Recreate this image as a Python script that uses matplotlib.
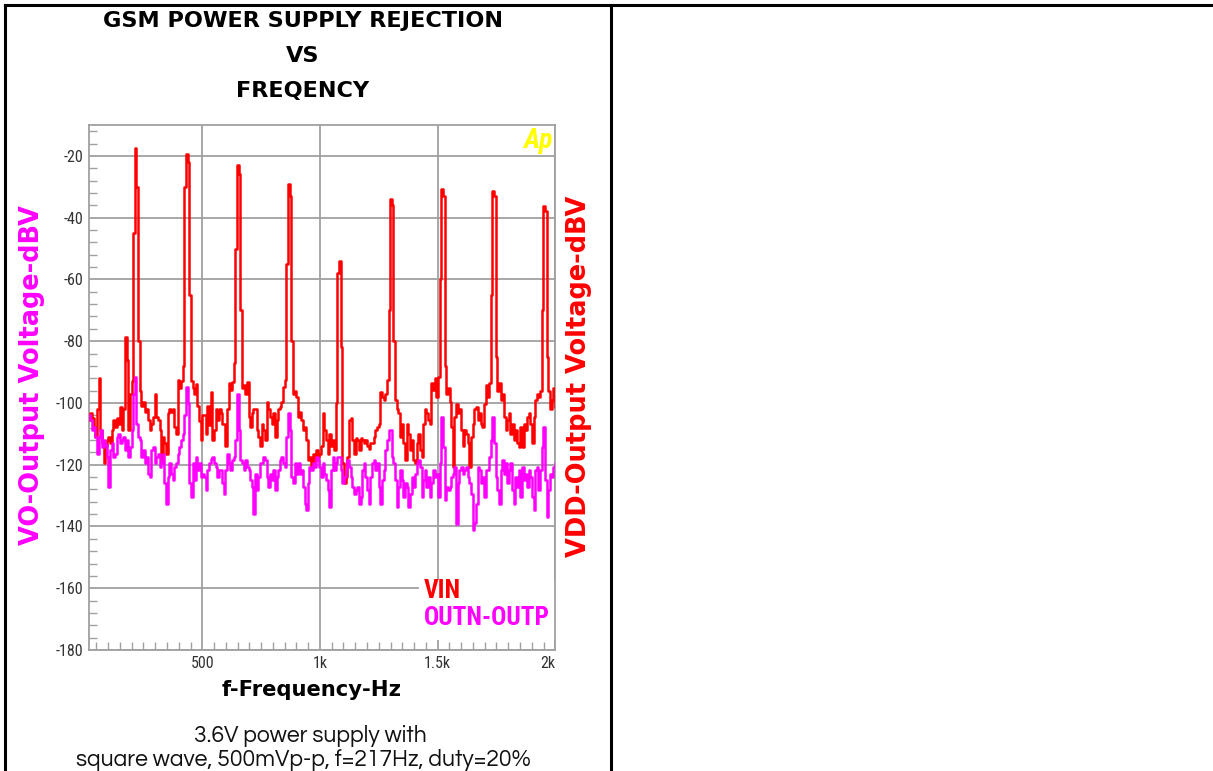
import numpy as np
import matplotlib
matplotlib.use("Agg")
import matplotlib.pyplot as plt
from matplotlib.lines import Line2D
from matplotlib.patches import Rectangle
from matplotlib.ticker import MultipleLocator, FixedLocator

# ---------------- data ----------------
freq_start = 21      # Hz, first FFT bin shown
freq_step = 7        # Hz, bin spacing (217 Hz = 31 bins)

vin_dbv = [
    -105.6, -103.4, -105.0, -107.8, -111.0, -102.0, -91.8, -108.8, -113.0, -119.6,
    -114.0, -112.0, -111.0, -113.0, -108.8, -105.6, -107.8, -105.0, -106.7, -101.3,
    -108.8, -102.0, -78.6, -86.0, -108.8, -97.0, -93.0, -45.0, -17.5, -30.0,
    -80.0, -96.0, -101.0, -99.6, -103.0, -102.0, -105.6, -108.8, -106.7, -104.5,
    -97.0, -104.5, -105.6, -108.8, -118.6, -111.0, -113.0, -116.4, -103.4, -101.8,
    -103.0, -102.0, -107.8, -110.0, -92.6, -95.0, -93.0, -88.0, -30.0, -19.5,
    -22.0, -65.0, -93.0, -95.0, -97.0, -94.0, -101.0, -106.0, -112.0, -104.0,
    -104.0, -110.0, -101.0, -107.0, -96.4, -112.0, -108.8, -102.0, -105.6, -102.0,
    -103.4, -106.7, -106.7, -114.0, -102.0, -93.7, -95.9, -93.2, -87.0, -50.0,
    -23.0, -26.0, -70.0, -95.3, -94.3, -97.0, -93.2, -104.5, -107.8, -103.4,
    -102.0, -101.8, -108.8, -111.0, -114.0, -106.7, -108.8, -112.0, -99.7, -102.0,
    -104.5, -106.7, -103.4, -111.0, -105.6, -101.8, -101.3, -99.7, -94.8, -92.6,
    -55.0, -29.2, -33.0, -80.0, -97.0, -96.0, -98.0, -104.5, -103.0, -105.6,
    -108.8, -107.8, -112.0, -118.6, -117.5, -120.7, -116.4, -118.6, -115.3, -117.5,
    -116.4, -114.0, -103.4, -108.8, -112.0, -116.4, -110.0, -114.0, -112.0, -115.3,
    -100.0, -58.0, -54.0, -82.0, -119.6, -126.0, -124.0, -117.5, -105.6, -105.0,
    -112.0, -116.4, -111.5, -112.0, -115.3, -111.5, -112.0, -113.0, -112.0, -114.0,
    -114.8, -113.0, -113.0, -111.0, -108.8, -107.8, -106.7, -96.4, -98.0, -99.0,
    -97.0, -92.6, -70.0, -34.0, -36.0, -80.0, -99.0, -102.0, -103.4, -111.0,
    -106.7, -113.0, -118.6, -106.7, -110.0, -115.3, -112.0, -118.6, -119.6, -113.0,
    -110.0, -115.3, -117.5, -106.7, -102.0, -103.4, -105.6, -106.7, -93.7, -95.9,
    -92.0, -98.0, -91.6, -60.0, -30.6, -33.0, -88.0, -97.0, -95.3, -99.7,
    -107.8, -120.7, -104.5, -100.2, -103.4, -102.0, -108.8, -114.0, -108.8, -110.0,
    -113.0, -120.7, -111.0, -106.7, -102.0, -101.3, -105.6, -103.4, -106.7, -107.8,
    -100.2, -94.3, -98.0, -93.7, -65.0, -31.4, -33.0, -85.0, -96.0, -93.7,
    -99.0, -97.0, -104.5, -108.8, -105.6, -103.4, -110.0, -106.7, -112.0, -108.8,
    -113.0, -114.2, -107.8, -114.2, -106.7, -108.8, -104.5, -103.4, -106.7, -113.0,
    -104.5, -99.0, -97.0, -98.0, -96.0, -70.0, -36.2, -38.0, -85.0, -96.0,
    -101.8, -99.0, -95.3, -101.3,
]

outn_outp_dbv = [
    -104.0, -105.6, -108.8, -107.8, -111.0, -116.4, -111.0, -108.8, -114.2, -112.0,
    -113.7, -117.5, -127.2, -115.3, -113.0, -117.5, -116.4, -111.0, -110.0, -113.0,
    -112.0, -111.0, -115.3, -112.0, -117.5, -114.2, -108.8, -97.0, -91.6, -106.7,
    -111.0, -112.0, -117.5, -115.3, -119.6, -117.5, -122.9, -124.0, -115.3, -114.2,
    -119.6, -117.5, -116.4, -120.7, -119.6, -116.4, -126.0, -132.6, -124.0, -119.6,
    -122.9, -125.0, -120.7, -119.6, -116.4, -114.2, -112.0, -110.0, -104.0, -94.8,
    -100.0, -126.0, -130.4, -119.6, -125.0, -117.5, -121.8, -119.6, -124.0, -122.9,
    -124.0, -128.3, -121.8, -119.6, -118.0, -117.5, -119.6, -120.7, -124.0, -121.8,
    -121.8, -126.0, -129.4, -121.8, -116.4, -119.6, -121.8, -118.6, -117.5, -112.0,
    -97.0, -108.8, -118.6, -119.6, -121.8, -118.6, -120.7, -121.8, -125.0, -127.2,
    -135.8, -122.9, -128.3, -124.0, -119.6, -119.6, -117.5, -118.6, -124.0, -127.2,
    -122.9, -125.0, -121.8, -128.3, -124.0, -121.8, -118.6, -117.5, -119.6, -120.7,
    -111.0, -103.4, -108.8, -124.0, -126.0, -119.6, -122.9, -119.6, -122.9, -121.8,
    -127.2, -132.6, -134.8, -126.0, -120.7, -121.8, -119.6, -120.7, -117.5, -118.6,
    -120.7, -124.0, -119.6, -122.9, -125.0, -128.3, -133.7, -121.8, -117.5, -121.8,
    -119.6, -117.5, -117.5, -121.8, -126.0, -124.0, -121.8, -118.6, -120.7, -124.0,
    -127.2, -129.4, -128.3, -127.2, -132.6, -130.4, -121.8, -119.6, -124.0, -128.3,
    -132.6, -124.0, -119.6, -118.6, -121.8, -119.6, -127.2, -132.6, -125.0, -121.8,
    -115.3, -112.0, -108.8, -108.8, -117.5, -119.6, -125.0, -133.7, -127.2, -121.8,
    -125.0, -130.4, -126.0, -127.2, -133.7, -129.4, -124.0, -127.2, -122.9, -119.6,
    -118.6, -120.7, -130.4, -125.0, -121.8, -127.2, -124.0, -130.4, -126.0, -121.8,
    -124.0, -122.9, -130.4, -119.6, -104.5, -114.2, -131.5, -127.2, -128.3, -127.2,
    -124.0, -122.9, -120.7, -139.1, -126.0, -121.8, -120.7, -122.9, -121.8, -120.7,
    -124.0, -126.0, -129.4, -141.2, -139.0, -132.6, -120.7, -121.8, -126.0, -124.0,
    -130.4, -121.8, -121.8, -117.5, -112.0, -104.5, -113.0, -124.0, -128.3, -132.6,
    -121.8, -118.6, -122.9, -119.6, -126.0, -121.8, -119.6, -128.3, -132.6, -124.0,
    -127.2, -121.8, -130.4, -120.7, -125.0, -122.9, -127.2, -121.8, -124.0, -130.4,
    -134.8, -121.8, -120.7, -128.3, -121.8, -114.2, -107.8, -125.0, -137.0, -128.3,
    -122.9, -124.0, -120.7, -119.6,
]

freq_hz = freq_start + freq_step * np.arange(len(vin_dbv))

x_ticks = [500, 1000, 1500, 2000]
x_tick_labels = ["500", "1k", "1.5k", "2k"]
y_ticks = [-20, -40, -60, -80, -100, -120, -140, -160, -180]

title_lines = ["GSM POWER SUPPLY REJECTION", "VS", "FREQENCY"]
legend_labels = ["VIN", "OUTN-OUTP"]
caption_lines = ["3.6V power supply with", "square wave, 500mVp-p, f=217Hz, duty=20%"]

# ---------------- figure ----------------
W, H = 1213, 771
fig = plt.figure(figsize=(W / 100, H / 100), dpi=100)
fig.patch.set_facecolor("white")
renderer = fig.canvas.get_renderer()

def fx(px):
    return px / W

def fy(py):
    return 1 - py / H

def fit(texts, target_px, vertical=False):
    """scale font size of texts so that the first one is target_px long"""
    bb = texts[0].get_window_extent(renderer)
    cur = bb.height if vertical else bb.width
    fs = texts[0].get_fontsize() * target_px / cur
    for t in texts:
        t.set_fontsize(fs)
    return fs

RED = "#FF0000"
MAG = "#FF00FF"
GRID = "#A0A0A0"
HEAVY = "DejaVu Sans"
NARROW = ["Roboto Condensed", "DejaVu Sans"]
GOTHIC = ["Questrial", "DejaVu Sans"]

ax = fig.add_axes([fx(89.3), fy(650), fx(555.3) - fx(89.3), fy(125) - fy(650)])
ax.set_facecolor("white")
ax.set_xlim(20, 2000)
ax.set_ylim(-180, -10)

ax.plot(freq_hz, vin_dbv, color=RED, lw=1.8, zorder=3, drawstyle="steps-mid")
ax.plot(freq_hz, outn_outp_dbv, color=MAG, lw=1.8, zorder=4, drawstyle="steps-mid")

ax.set_axisbelow(True)
ax.xaxis.set_major_locator(FixedLocator(x_ticks))
ax.yaxis.set_major_locator(FixedLocator(y_ticks))
ax.xaxis.set_minor_locator(MultipleLocator(50))
ax.yaxis.set_minor_locator(MultipleLocator(4))
ax.grid(True, which="major", color=GRID, lw=1.3)
ax.set_xticklabels(x_tick_labels, family=NARROW, fontsize=11.5, color="#333333")
ax.set_yticklabels([str(v) for v in y_ticks], family=NARROW, fontsize=11.5,
                   color="#333333")

ax.tick_params(which="major", length=0, pad=4)
ax.tick_params(which="minor", direction="in", length=6, color=GRID, width=1)
ax.get_xticklabels()[-1].set_horizontalalignment("right")

for sp in ax.spines.values():
    sp.set_color(GRID)
    sp.set_linewidth(1.3)

# legend area
ax.add_patch(Rectangle((1420, -176.8), 580, 19.5, facecolor="white",
                       edgecolor="none", zorder=1))
lg1 = ax.text(1443, -161.0, legend_labels[0], color=RED, fontsize=15, fontweight="bold",
              family=NARROW, va="center", ha="left", zorder=5)
lg2 = ax.text(1443, -169.5, legend_labels[1], color=MAG, fontsize=15, fontweight="bold",
              family=NARROW, va="center", ha="left", zorder=5)
fit([lg2, lg1], 127)

# Ap logo
ax.text(0.995, 0.997, "Ap", transform=ax.transAxes, color="#FFFF00", fontsize=20,
        fontweight="heavy", style="italic", family=NARROW, ha="right", va="top", zorder=5)

# titles
tts = [fig.text(fx(303), fy(yy), t, ha="center", va="center", fontsize=16,
                fontweight="heavy", family=HEAVY, color="black")
       for t, yy in zip(title_lines, [21, 56, 91])]
fit(tts, 400)

xl = fig.text(fx(312), fy(690), "f-Frequency-Hz", ha="center", va="center", fontsize=15.5,
              fontweight="heavy", family=HEAVY, color="black")
fit([xl], 180)
yl = fig.text(fx(32), fy(375), "VO-Output Voltage-dBV", ha="center", va="center",
              rotation=90, fontsize=18, fontweight="heavy", family=HEAVY, color=MAG)
fit([yl], 340, vertical=True)
yr = fig.text(fx(579), fy(376), "VDD-Output Voltage-dBV", ha="center", va="center",
              rotation=90, fontsize=18, fontweight="heavy", family=HEAVY, color=RED)
fit([yr], 362, vertical=True)

c1 = fig.text(fx(310), fy(736), caption_lines[0], ha="center", va="center",
              fontsize=14, family=GOTHIC, color="#111111")
c2 = fig.text(fx(303), fy(760), caption_lines[1], ha="center", va="center",
              fontsize=14, family=GOTHIC, color="#111111")
fit([c2, c1], 457)

# table borders
lw_b = 2.2
for xs, ysg in [([5, 5], [5, 771]), ([5, 1213], [5, 5]), ([611, 611], [5, 771])]:
    fig.add_artist(Line2D([fx(v) for v in xs], [fy(v) for v in ysg], color="black",
                          lw=lw_b, transform=fig.transFigure))

fig.savefig("out.png", dpi=100, facecolor="white")
